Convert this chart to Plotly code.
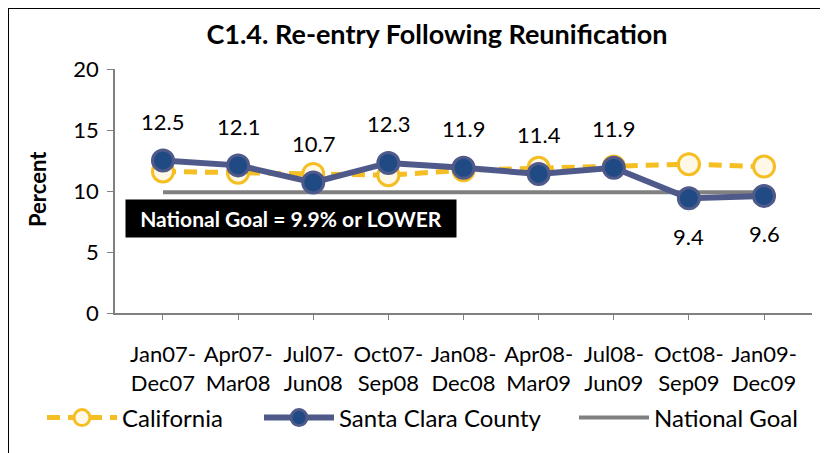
import plotly.graph_objects as go

categories = ["Jan07-<br>Dec07", "Apr07-<br>Mar08", "Jul07-<br>Jun08", "Oct07-<br>Sep08",
              "Jan08-<br>Dec08", "Apr08-<br>Mar09", "Jul08-<br>Jun09", "Oct08-<br>Sep09", "Jan09-<br>Dec09"]
california = [11.6, 11.5, 11.4, 11.3, 11.7, 11.9, 12.0, 12.2, 12.0]
santa_clara = [12.5, 12.1, 10.7, 12.3, 11.9, 11.4, 11.9, 9.4, 9.6]
national_goal = [9.9] * 9
label_below = [False, False, False, False, False, False, False, True, True]

FONT = "Lato, Open Sans, sans-serif"

# page offset (body margin) compensation
OFF = 8
W, H = 828 - OFF, 453 - OFF
# plot area in reference-pixel coordinates
PX0, PX1, PY0, PY1 = 115, 812, 69, 313
L, R, T, B = PX0 - OFF, W - (PX1 - OFF), PY0 - OFF, H - (PY1 - OFF)
PW, PH = PX1 - PX0, PY1 - PY0

def px_x(x):
    return (x - PX0) / PW

def px_y(y):
    return (PY1 - y) / PH

fig = go.Figure()
fig.add_trace(go.Scatter(
    x=categories, y=california, name="California", mode="lines+markers",
    line=dict(color="#F5BE23", width=5, dash="13px,8px"),
    marker=dict(size=21, color="#FFF8E6", line=dict(color="#F5BE23", width=3)),
    legend="legend"))
fig.add_trace(go.Scatter(
    x=categories, y=national_goal, name="National Goal", mode="lines",
    line=dict(color="#808080", width=4), legend="legend3"))
fig.add_trace(go.Scatter(
    x=categories, y=santa_clara, name="Santa Clara County", mode="lines+markers",
    line=dict(color="#4F5A8A", width=6),
    marker=dict(size=21, color="#1F4A84", line=dict(color="#4F5A8A", width=3)),
    legend="legend2"))

for c, v, below in zip(categories, santa_clara, label_below):
    fig.add_annotation(x=c, y=v, text=f"{v:.1f}", showarrow=False,
                       yshift=-38 if below else 39,
                       font=dict(size=22, color="#000000", family=FONT))

fig.add_annotation(xref="paper", yref="paper", x=px_x(125), y=px_y(218.5),
                   xanchor="left", yanchor="middle", width=320, height=27, align="center",
                   text="<b>National Goal = 9.9% or LOWER</b>", showarrow=False,
                   bgcolor="#000000", font=dict(size=21, color="#FFFFFF", family=FONT),
                   borderpad=5)

fig.add_annotation(xref="paper", yref="paper", x=px_x(37), y=px_y(189),
                   xanchor="center", yanchor="middle", textangle=-90,
                   text="<b>Percent</b>", showarrow=False,
                   font=dict(size=22, color="#000000", family=FONT))

fig.add_shape(type="rect", xref="paper", yref="paper",
              x0=px_x(8), x1=px_x(822), y0=px_y(470), y1=px_y(8),
              line=dict(color="#000000", width=2), fillcolor="rgba(0,0,0,0)")

leg_common = dict(orientation="h", xanchor="left", y=px_y(418), yanchor="middle",
                  font=dict(size=24, family=FONT), itemwidth=70, bgcolor="rgba(0,0,0,0)")

fig.update_layout(
    width=W, height=H,
    margin=dict(l=L, r=R, t=T, b=B, autoexpand=False),
    paper_bgcolor="#FFFFFF", plot_bgcolor="#FFFFFF",
    title=dict(text="<b>C1.4. Re-entry Following Reunification</b>",
               x=(437 - OFF) / W, xanchor="center",
               y=1 - (35 - OFF) / H, yanchor="middle",
               font=dict(size=27, color="#000000", family=FONT)),
    font=dict(family=FONT, color="#000000"),
    showlegend=True,
    legend=dict(x=px_x(42), **leg_common),
    legend2=dict(x=px_x(259), **leg_common),
    legend3=dict(x=px_x(574), **leg_common),
    xaxis=dict(showline=True, linecolor="#808080", linewidth=1.5, ticks="outside",
               ticklen=5, tickcolor="#808080", showgrid=False, automargin=False,
               ticklabelstandoff=16,
               tickfont=dict(size=22, family=FONT, color="#000000")),
    yaxis=dict(range=[0, 20], dtick=5, showline=True, linecolor="#808080", linewidth=1.5,
               ticks="outside", ticklen=6, tickcolor="#808080", showgrid=False, zeroline=False,
               automargin=False, ticklabelstandoff=4,
               tickfont=dict(size=22, family=FONT, color="#000000")),
)

fig.write_html("out.html")
